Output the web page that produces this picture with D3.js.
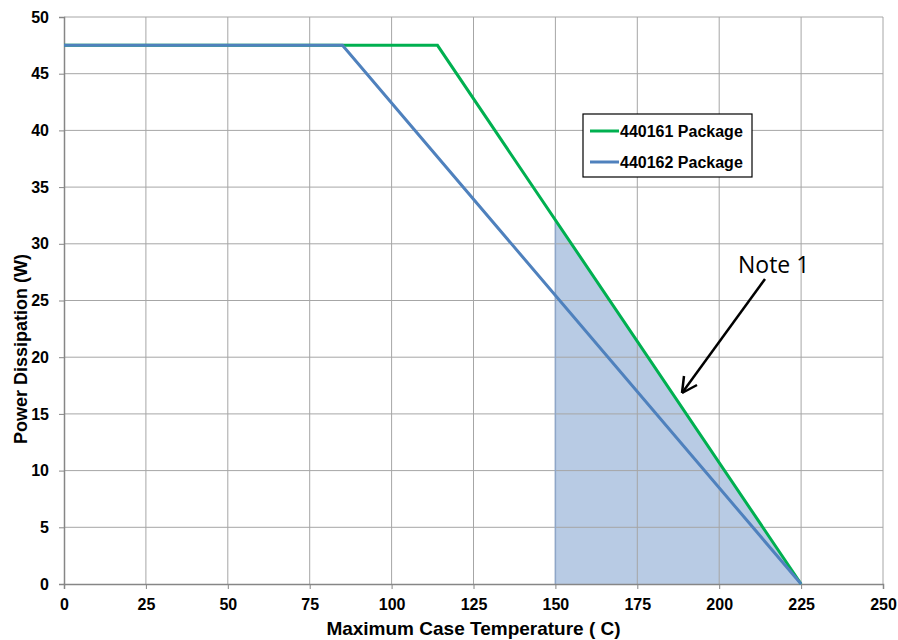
<!DOCTYPE html>
<html>
<head>
<meta charset="utf-8">
<script src="https://cdn.jsdelivr.net/npm/d3@7"></script>
<style>
  body { margin: 0; background: #fff; }
  svg text { font-family: "Liberation Sans", Arial, sans-serif; }
</style>
</head>
<body>
<div id="chart"></div>
<script>
// series: case temperature (C) vs power dissipation (W)
const temp161 = [0, 114, 225];
const power161 = [47.5, 47.5, 0];
const temp162 = [0, 85, 225];
const power162 = [47.5, 47.5, 0];

// shaded region (note 1)
const shadeTemp = [150, 150, 225];
const shadePower = [0, 32.1, 0];

const xTicks = [0, 25, 50, 75, 100, 125, 150, 175, 200, 225, 250];
const yTicks = [0, 5, 10, 15, 20, 25, 30, 35, 40, 45, 50];
const seriesNames = ["440161 Package", "440162 Package"];

const colours = {
  green: "#00b050",
  blue: "#4f81bd",
  shade: "#b8cbe4",
  grid: "#a6a6a6",
  axis: "#868686"
};

const size = {
  width: 898,
  height: 640,
  left: 64,
  right: 883,
  top: 17,
  bottom: 584
};

function createScales() {
  return {
    x: d3.scaleLinear().domain([0, 250]).range([size.left, size.right]),
    y: d3.scaleLinear().domain([0, 50]).range([size.bottom, size.top])
  };
}

function toPoints(xs, ys) {
  return xs.map((x, i) => [x, ys[i]]);
}

function draw(scale) {
  const svg = d3.select("#chart").append("svg")
    .attr("width", size.width)
    .attr("height", size.height);

  const line = d3.line().x(d => scale.x(d[0])).y(d => scale.y(d[1]));

  // shaded area first so the grid shows through
  svg.append("path")
    .datum(toPoints(shadeTemp, shadePower))
    .attr("d", d => line(d) + "Z")
    .attr("fill", colours.shade);

  // gridlines
  svg.append("g")
    .selectAll("line.v")
    .data(xTicks.slice(1))
    .join("line")
    .attr("x1", d => scale.x(d)).attr("x2", d => scale.x(d))
    .attr("y1", size.top).attr("y2", size.bottom)
    .attr("stroke", colours.grid).attr("stroke-width", 1);

  svg.append("g")
    .selectAll("line.h")
    .data(yTicks.slice(1))
    .join("line")
    .attr("x1", size.left).attr("x2", size.right)
    .attr("y1", d => scale.y(d)).attr("y2", d => scale.y(d))
    .attr("stroke", colours.grid).attr("stroke-width", 1);

  // edge of the shaded area
  svg.append("line")
    .attr("x1", scale.x(shadeTemp[0])).attr("x2", scale.x(shadeTemp[1]))
    .attr("y1", scale.y(shadePower[0])).attr("y2", scale.y(shadePower[1]))
    .attr("stroke", "#8ea6c8").attr("stroke-width", 1.5);

  // axes
  const xAxis = d3.axisBottom(scale.x).tickValues(xTicks).tickSize(5).tickPadding(10);
  const yAxis = d3.axisLeft(scale.y).tickValues(yTicks).tickSize(5).tickPadding(10);

  const gx = svg.append("g")
    .attr("transform", `translate(0, ${size.bottom})`)
    .call(xAxis);
  const gy = svg.append("g")
    .attr("transform", `translate(${size.left}, 0)`)
    .call(yAxis);

  [gx, gy].forEach(g => {
    g.select(".domain").attr("stroke", colours.axis).attr("stroke-width", 1.5);
    g.selectAll(".tick line").attr("stroke", colours.axis);
    g.selectAll("text")
      .style("font-size", "16px")
      .style("font-weight", "bold")
      .style("fill", "#000");
  });

  // series lines
  const series = [
    { pts: toPoints(temp161, power161), colour: colours.green },
    { pts: toPoints(temp162, power162), colour: colours.blue }
  ];
  series.forEach(s => {
    svg.append("path")
      .datum(s.pts)
      .attr("d", line)
      .attr("fill", "none")
      .attr("stroke", s.colour)
      .attr("stroke-width", 3)
      .attr("stroke-linejoin", "miter");
  });

  // axis titles
  svg.append("text")
    .attr("x", (size.left + size.right) / 2)
    .attr("y", 635)
    .attr("text-anchor", "middle")
    .style("font-size", "19px")
    .style("font-weight", "bold")
    .text("Maximum Case Temperature ( C)");

  svg.append("text")
    .attr("transform", "translate(27, 349) rotate(-90)")
    .attr("text-anchor", "middle")
    .style("font-size", "18px")
    .style("font-weight", "bold")
    .text("Power Dissipation (W)");

  // legend
  const legend = svg.append("g");
  legend.append("rect")
    .attr("x", 583).attr("y", 114)
    .attr("width", 169).attr("height", 63)
    .attr("fill", "#fff")
    .attr("stroke", "#000").attr("stroke-width", 1.2);

  [colours.green, colours.blue].forEach((c, i) => {
    const y = 131 + i * 31;
    legend.append("line")
      .attr("x1", 590).attr("x2", 619)
      .attr("y1", y).attr("y2", y)
      .attr("stroke", c).attr("stroke-width", 3);
    legend.append("text")
      .attr("x", 620).attr("y", y + 6)
      .style("font-size", "16px")
      .style("font-weight", "bold")
      .text(seriesNames[i]);
  });

  // note annotation
  svg.append("line")
    .attr("x1", 765).attr("y1", 279)
    .attr("x2", 682).attr("y2", 393)
    .attr("stroke", "#000").attr("stroke-width", 2.5);

  svg.append("path")
    .attr("d", "M682,393 L684,376 M682,393 L697,385")
    .attr("stroke", "#000").attr("stroke-width", 2.5)
    .attr("fill", "none");

  svg.append("text")
    .attr("x", 738).attr("y", 273)
    .style("font-family", "'Open Sans', sans-serif")
    .style("font-size", "23px")
    .text("Note 1");
}

draw(createScales());
</script>
</body>
</html>
